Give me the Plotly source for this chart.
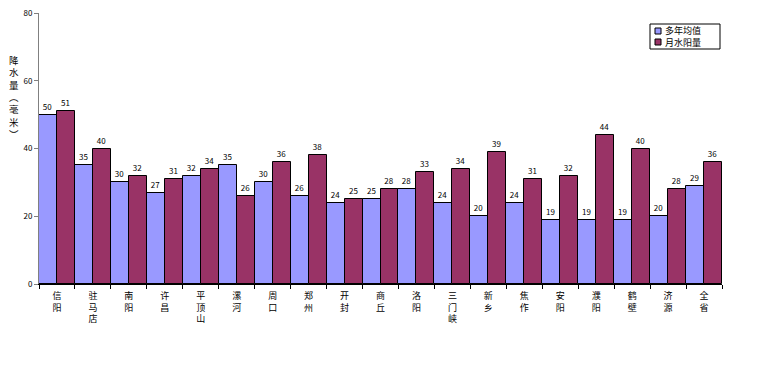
import plotly.graph_objects as go

categories = ["信阳", "驻马店", "南阳", "许昌", "平顶山", "漯河", "周口", "郑州", "开封", "商丘",
              "洛阳", "三门峡", "新乡", "焦作", "安阳", "濮阳", "鹤壁", "济源", "全省"]
avg_values = [50, 35, 30, 27, 32, 35, 30, 26, 24, 25, 28, 24, 20, 24, 19, 19, 19, 20, 29]
month_values = [51, 40, 32, 31, 34, 26, 36, 38, 25, 28, 33, 34, 39, 31, 32, 44, 40, 28, 36]
series_names = ["多年均值", "月水阳量"]
series_colors = ["#9999FF", "#993366"]
y_ticks = [0, 20, 40, 60, 80]
y_title_chars = ["降", "水", "量", "︵", "毫", "米", "︶"]

FONT = "Noto Sans CJK SC"
W, H = 766, 373
OFF = 8  # page body margin
# plot area in screen pixels
SL, SR, ST, SB = 39, 722, 13, 284
L, T = SL - OFF, ST - OFF
R = W - (SR - OFF)
B = H - (SB - OFF)
PW, PH = SR - SL, SB - ST


def px(x):
    return (x - SL) / PW


def py(y):
    return (SB - y) / PH


tick_text = ["<br>".join(list(c)) for c in categories]

fig = go.Figure()
for name, vals, col in zip(series_names, [avg_values, month_values], series_colors):
    fig.add_trace(go.Bar(
        x=categories, y=vals, name=name,
        marker=dict(color=col, line=dict(color="#000000", width=1)),
        text=[str(v) for v in vals], textposition="outside",
        textfont=dict(size=8, color="#000000", family=FONT), cliponaxis=False,
        showlegend=False,
    ))

annotations = [dict(
    text="<br>".join(y_title_chars), xref="paper", yref="paper",
    x=px(14), y=py(97), xanchor="center", yanchor="middle",
    showarrow=False, borderpad=0,
    font=dict(size=9.5, family=FONT, color="#000000"),
)]

# legend (box, swatches, labels)
shapes = [dict(type="rect", xref="paper", yref="paper",
               x0=px(650), x1=px(720), y0=py(49), y1=py(24),
               line=dict(color="#000000", width=1), fillcolor="white", layer="above")]
row_y = [31, 42]
for name, col, yy in zip(series_names, series_colors, row_y):
    shapes.append(dict(type="rect", xref="paper", yref="paper",
                       x0=px(655), x1=px(661), y0=py(yy + 3), y1=py(yy - 3),
                       line=dict(color="#000000", width=1), fillcolor=col, layer="above"))
    annotations.append(dict(
        text=name, xref="paper", yref="paper", x=px(664), y=py(yy),
        xanchor="left", yanchor="middle", showarrow=False, borderpad=0,
        font=dict(size=9, family=FONT, color="#000000"),
    ))

fig.update_layout(
    width=W, height=H,
    margin=dict(l=L, r=R, t=T, b=B, autoexpand=False),
    paper_bgcolor="white", plot_bgcolor="white",
    barmode="group", bargap=0, bargroupgap=0,
    font=dict(family=FONT, size=10, color="#000000"),
    showlegend=False,
    xaxis=dict(
        tickmode="array", tickvals=categories, ticktext=tick_text,
        ticks="outside", tickson="boundaries", ticklen=4, tickcolor="#000000",
        showline=True, linecolor="#000000", linewidth=1, automargin=False,
        showgrid=False, tickfont=dict(size=9, family=FONT), ticklabelstandoff=3,
        ticklabeloverflow="allow",
    ),
    yaxis=dict(
        range=[0, 80], tickvals=y_ticks, ticks="outside", ticklen=4,
        tickcolor="#808080", showline=True, linecolor="#808080", linewidth=1,
        showgrid=False, zeroline=False, automargin=False,
        tickfont=dict(size=8, family=FONT), ticklabeloverflow="allow",
    ),
    annotations=annotations,
    shapes=shapes,
)

fig.write_html("out.html")
